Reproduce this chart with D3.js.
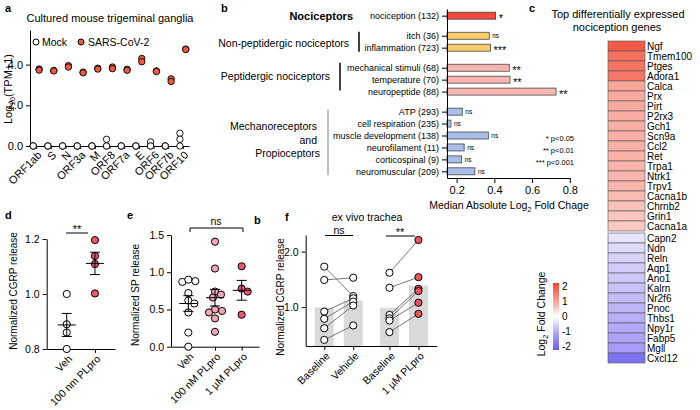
<!DOCTYPE html>
<html>
<head>
<meta charset="utf-8">
<script src="https://cdn.jsdelivr.net/npm/d3@7"></script>
<style>
  body { margin: 0; background: #fff; }
  svg { font-family: "Liberation Sans", Arial, Helvetica, sans-serif; }
</style>
</head>
<body>
<div id="fig"></div>
<script>
// ---- panel a: viral transcripts
var orfNames = ["ORF1ab", "S", "N", "ORF3a", "M", "ORF8", "ORF7a", "E", "ORF6", "ORF7b", "ORF10"];
var mockTpm = [[0, 0, 0], [0, 0, 0], [0, 0, 0], [0, 0, 0], [0, 0, 0], [0.33, 0, 0], [0, 0, 0], [0, 0, 0], [0.2, 0, 0], [0, 0, 0], [0.63, 0.33, 0]];
var sarsTpm = [[3.78, 3.73], [3.71, 3.69], [3.95, 3.88], [3.63, 3.6], [3.82, 3.78], [3.88, 3.8], [3.77, 3.72], [4.3, 4.14], [3.69, 3.66], [3.3, 3.17], [4.76, 4.74]];
var aTicks = [0, 2, 4];

// ---- panel b: pathway fold change
var pathNames = ["nociception (132)", "itch (36)", "inflammation (723)", "mechanical stimuli (68)", "temperature (70)",
  "neuropeptide (88)", "ATP (293)", "cell respiration (235)", "muscle development (138)", "neurofilament (11)",
  "corticospinal (9)", "neuromuscular (209)"];
var pathValues = [0.407, 0.373, 0.38, 0.479, 0.483, 0.727, 0.23, 0.17, 0.368, 0.24, 0.227, 0.297];
var pathGroup = [0, 1, 1, 2, 2, 2, 3, 3, 3, 3, 3, 3];
var pathSig = ["*", "ns", "***", "**", "**", "**", "ns", "ns", "ns", "ns", "ns", "ns"];
var bTicks = [0.2, 0.4, 0.6, 0.8];

// ---- panel c: heatmap
var upGenes = ["Ngf", "Tmem100", "Ptges", "Adora1", "Calca", "Prx", "Pirt", "P2rx3", "Gch1", "Scn9a", "Ccl2", "Ret",
  "Trpa1", "Ntrk1", "Trpv1", "Cacna1b", "Chrnb2", "Grin1", "Cacna1a"];
var upFc = [1.75, 1.5, 1.48, 1.45, 0.95, 0.92, 0.9, 0.88, 0.86, 0.85, 0.84, 0.82, 0.8, 0.79, 0.78, 0.72, 0.65, 0.62, 0.58];
var downGenes = ["Capn2", "Ndn", "Reln", "Aqp1", "Ano1", "Kalrn", "Nr2f6", "Pnoc", "Thbs1", "Npy1r", "Fabp5", "Mgll", "Cxcl12"];
var downFc = [-0.35, -0.45, -0.55, -0.62, -0.68, -0.75, -0.82, -0.9, -0.98, -1.05, -1.12, -1.22, -1.75];
var fcTicks = [2, 1, 0, -1, -2];

// ---- panel d: CGRP release
var dGroups = ["Veh", "100 nm PLpro"];
var dVeh = [1.0, 0.89, 0.86, 0.8];
var dPlpro = [1.196, 1.138, 1.109, 1.002];

// ---- panel e: SP release
var eGroups = ["Veh", "100 nM PLpro", "1 \u00b5M PLpro"];
var eVeh = [0.87, 0.88, 0.9, 0.72, 0.62, 0.58, 0.46, 0.19, 0.0];
var ePl100 = [1.41, 1.05, 0.74, 0.7, 0.66, 0.5, 0.48, 0.46, 0.38, 0.2];
var ePl1 = [1.08, 0.78, 0.74, 0.43];

// ---- panel f: ex vivo trachea (paired)
var fGroups = ["Baseline", "Vehicle", "Baseline", "1 \u00b5M PLpro"];
var fBase1 = [1.73, 1.49, 0.92, 0.79, 0.62, 0.41];
var fVehicle = [1.2, 1.53, 1.16, 1.1, 1.03, 0.67];
var fBase2 = [1.62, 1.35, 0.86, 0.8, 0.76, 0.55];
var fPlpro = [2.21, 1.54, 1.33, 1.29, 1.08, 0.88];

var svg = d3.select("#fig").append("svg")
  .attr("width", 700)
  .attr("height", 410);
svg.append("rect").attr("width", 700).attr("height", 410).attr("fill", "#fff");

function styleAxis(g, size) {
  g.attr("font-family", null).attr("font-size", size);
  g.selectAll("text").attr("fill", "#000");
}

function rotateLabels(g, dx, dy) {
  g.selectAll(".tick text")
    .attr("x", 0).attr("y", 0).attr("dy", "0.35em")
    .attr("transform", "translate(" + dx + "," + dy + ") rotate(-45)")
    .style("text-anchor", "end");
}

function letter(t, x, y) {
  svg.append("text").attr("x", x).attr("y", y)
    .attr("font-size", 11).attr("font-weight", "bold").text(t);
}

function yTitle(x, y, size, parts) {
  var t = svg.append("text")
    .attr("transform", "translate(" + x + "," + y + ") rotate(-90)")
    .attr("text-anchor", "middle")
    .attr("font-size", size);
  parts.forEach(function(p) {
    var s = t.append("tspan").text(p[0]);
    if (p[1]) s.attr("font-size", size * 0.7).attr("dy", 3);
    else if (p[2]) s.attr("dy", -3);
  });
  return t;
}

// simple swarm: shift points sideways until they stop overlapping
function dodge(vals, y, r) {
  var offs = vals.map(function() { return 0; });
  var placed = [];
  d3.range(vals.length).sort(function(a, b) { return vals[b] - vals[a]; }).forEach(function(i) {
    var cy = y(vals[i]);
    for (var k = 0; k < 60; k++) {
      var o = k % 2 ? (k + 1) / 2 : -k / 2;
      var ok = placed.every(function(p) { return Math.hypot(p[0] - o, p[1] - cy) >= 2 * r - 1; });
      if (ok) { offs[i] = o; placed.push([o, cy]); break; }
    }
  });
  return offs;
}

function meanSem(g, cx, vals, y) {
  var m = d3.mean(vals);
  var sem = d3.deviation(vals) / Math.sqrt(vals.length);
  g.append("line").attr("x1", cx - 9).attr("x2", cx + 9).attr("y1", y(m)).attr("y2", y(m));
  g.append("line").attr("x1", cx).attr("x2", cx).attr("y1", y(m - sem)).attr("y2", y(m + sem));
  g.append("line").attr("x1", cx - 5).attr("x2", cx + 5).attr("y1", y(m + sem)).attr("y2", y(m + sem));
  g.append("line").attr("x1", cx - 5).attr("x2", cx + 5).attr("y1", y(m - sem)).attr("y2", y(m - sem));
}

// =================== panel a
letter("a", 5, 12);
svg.append("text").attr("x", 110).attr("y", 22).attr("text-anchor", "middle")
  .attr("font-size", 11).text("Cultured mouse trigeminal ganglia");

var xa = d3.scalePoint().domain(orfNames).range([30, 189]).padding(0.42);
var ya = d3.scaleLinear().domain([0, 5.7]).range([146, 30]);

var axA = svg.append("g").attr("transform", "translate(0,146)")
  .call(d3.axisBottom(xa).tickSize(3).tickSizeOuter(0));
styleAxis(axA, 11);
rotateLabels(axA, 3, 7);
var ayA = svg.append("g").attr("transform", "translate(30,0)")
  .call(d3.axisLeft(ya).tickValues(aTicks).tickSize(4).tickSizeOuter(0));
styleAxis(ayA, 11);
yTitle(12, 89, 11, [["Log"], ["10", true], ["(TPM+1)", false, true]]);

var aPts = [];
orfNames.forEach(function(name, i) {
  mockTpm[i].forEach(function(v) { aPts.push({ name: name, v: v, sars: false }); });
  sarsTpm[i].forEach(function(v) { aPts.push({ name: name, v: v, sars: true }); });
});
svg.append("g").selectAll("circle")
  .data(aPts)
  .join("circle")
  .attr("cx", function(d) { return xa(d.name) + (d.sars ? 1 : -1) * xa.step() * 0.2; })
  .attr("cy", function(d) { return ya(d.v); })
  .attr("r", 3.2)
  .attr("fill", function(d) { return d.sars ? "#ef5a3c" : "#fff"; })
  .attr("stroke", "#000")
  .attr("stroke-width", 0.9);

svg.append("circle").attr("cx", 36).attr("cy", 42).attr("r", 3).attr("fill", "#fff").attr("stroke", "#000");
svg.append("text").attr("x", 42).attr("y", 46).attr("font-size", 10.5).text("Mock");
svg.append("circle").attr("cx", 81).attr("cy", 42).attr("r", 3).attr("fill", "#ef5a3c").attr("stroke", "#000");
svg.append("text").attr("x", 88).attr("y", 46).attr("font-size", 10.5).text("SARS-CoV-2");

// =================== panel b
letter("b", 221, 12);
var groupColors = ["#ef4b3b", "#f7cd6c", "#f9b6b1", "#a8bee8"];
var rowPos = pathGroup.map(function(g, i) { return i + g * 0.68; });
var yb = d3.scaleLinear().domain([-0.56, 13.6]).range([9, 178]);
var xb = d3.scaleLinear().domain([0.149, 0.8]).range([447, 569.8]);

svg.append("g").selectAll("rect")
  .data(pathValues)
  .join("rect")
  .attr("x", xb(0.149))
  .attr("y", function(d, i) { return yb(rowPos[i]) - 3.5; })
  .attr("width", function(d) { return xb(d) - xb(0.149); })
  .attr("height", 7)
  .attr("fill", function(d, i) { return groupColors[pathGroup[i]]; })
  .attr("stroke", "#333")
  .attr("stroke-width", 0.7);

svg.append("g").selectAll("text")
  .data(pathValues)
  .join("text")
  .attr("x", function(d) { return xb(d) + 3; })
  .attr("y", function(d, i) { return yb(rowPos[i]) + (pathSig[i] === "ns" ? 2.5 : 6); })
  .attr("font-size", function(d, i) { return pathSig[i] === "ns" ? 6.5 : 11; })
  .text(function(d, i) { return pathSig[i]; });

var ayB = svg.append("g").attr("transform", "translate(447,0)")
  .call(d3.axisLeft(yb).tickValues(rowPos).tickSize(5).tickSizeOuter(0)
    .tickFormat(function(d, i) { return pathNames[i]; }));
styleAxis(ayB, 9);
var axB = svg.append("g").attr("transform", "translate(0,178)")
  .call(d3.axisBottom(xb).tickValues(bTicks).tickSize(5).tickSizeOuter(0).tickFormat(d3.format(".1f")));
styleAxis(axB, 11);

var bTitle = svg.append("text").attr("x", 509).attr("y", 209).attr("text-anchor", "middle").attr("font-size", 10.5);
bTitle.append("tspan").text("Median Absolute Log");
bTitle.append("tspan").attr("font-size", 7.5).attr("dy", 3).text("2");
bTitle.append("tspan").attr("dy", -3).text(" Fold Chage");

svg.append("text").attr("x", 353).attr("y", 19.5).attr("text-anchor", "end")
  .attr("font-size", 11).attr("font-weight", "bold").text("Nociceptors");
svg.append("text").attr("x", 349).attr("y", 46.5).attr("text-anchor", "end")
  .attr("font-size", 10.5).text("Non-peptidergic nociceptors");
svg.append("text").attr("x", 330).attr("y", 80).attr("text-anchor", "end")
  .attr("font-size", 10.5).text("Peptidergic nociceptors");
[["Mechanoreceptors", 317, 130], ["and", 317, 144], ["Propioceptors", 320, 157]].forEach(function(t) {
  svg.append("text").attr("x", t[1]).attr("y", t[2]).attr("text-anchor", "end")
    .attr("font-size", 10.5).text(t[0]);
});
svg.append("line").attr("x1", 359).attr("x2", 359).attr("y1", yb(rowPos[1]) - 4).attr("y2", yb(rowPos[2]) + 4)
  .attr("stroke", "#000").attr("stroke-width", 1.5);
svg.append("line").attr("x1", 340).attr("x2", 340).attr("y1", yb(rowPos[3]) - 5).attr("y2", yb(rowPos[5]) - 1)
  .attr("stroke", "#000").attr("stroke-width", 1.5);
svg.append("line").attr("x1", 328).attr("x2", 328).attr("y1", yb(rowPos[6]) - 2).attr("y2", yb(rowPos[11]) + 4)
  .attr("stroke", "#aaa").attr("stroke-width", 1.5);

[["* p<0.05", 141], ["** p<0.01", 153], ["*** p<0.001", 165]].forEach(function(t) {
  svg.append("text").attr("x", 574).attr("y", t[1]).attr("text-anchor", "end")
    .attr("font-size", 7.5).text(t[0]);
});

// =================== panel c
letter("c", 529, 12);
svg.append("text").attr("x", 618).attr("y", 18).attr("text-anchor", "middle").attr("font-size", 11)
  .text("Top differentially expressed");
svg.append("text").attr("x", 617).attr("y", 31).attr("text-anchor", "middle").attr("font-size", 11)
  .text("nociception genes");

var fcColor = d3.scaleLinear().domain([-2, 0, 2]).range(["#6a5df2", "#ffffff", "#f2432c"]);
var yUp = d3.scaleBand().domain(upGenes).range([41, 231]);
var yDown = d3.scaleBand().domain(downGenes).range([233, 363]);

function heatRows(genes, fc, yscale) {
  var g = svg.append("g");
  g.selectAll("rect")
    .data(genes)
    .join("rect")
    .attr("x", 608)
    .attr("y", function(d) { return yscale(d); })
    .attr("width", 37)
    .attr("height", yscale.bandwidth())
    .attr("fill", function(d, i) { return fcColor(fc[i]); })
    .attr("stroke", "#555")
    .attr("stroke-width", 0.6);
  g.selectAll("text")
    .data(genes)
    .join("text")
    .attr("x", 647)
    .attr("y", function(d) { return yscale(d) + yscale.bandwidth() / 2; })
    .attr("dy", "0.36em")
    .attr("font-size", 10)
    .text(function(d) { return d; });
}
heatRows(upGenes, upFc, yUp);
heatRows(downGenes, downFc, yDown);

// colour bar
var yLeg = d3.scaleLinear().domain([-2.25, 2.25]).range([350, 283]);
var grad = svg.append("defs").append("linearGradient").attr("id", "fcgrad")
  .attr("x1", 0).attr("y1", 1).attr("x2", 0).attr("y2", 0);
[-2.25, -1, 0, 1, 2.25].forEach(function(v) {
  grad.append("stop").attr("offset", (v + 2.25) / 4.5).attr("stop-color", fcColor(Math.max(-2, Math.min(2, v))));
});
svg.append("rect").attr("x", 553).attr("y", yLeg(2.25)).attr("width", 6)
  .attr("height", yLeg(-2.25) - yLeg(2.25)).attr("fill", "url(#fcgrad)");
svg.append("g").selectAll("text")
  .data(fcTicks)
  .join("text")
  .attr("x", 562)
  .attr("y", function(d) { return yLeg(d); })
  .attr("dy", "0.36em")
  .attr("font-size", 10)
  .text(function(d) { return d; });
yTitle(545, 314, 10.5, [["Log"], ["2", true], [" Fold Change", false, true]]);

// =================== panel d
letter("d", 5, 219);
var xd = d3.scalePoint().domain(dGroups).range([46.7, 115]).padding(0.71);
var yd = d3.scaleLinear().domain([0.8, 1.2]).range([349, 239]);
var axD = svg.append("g").attr("transform", "translate(0,349)")
  .call(d3.axisBottom(xd).tickSize(4).tickSizeOuter(0));
styleAxis(axD, 10.5);
rotateLabels(axD, 3, 8);
var ayD = svg.append("g").attr("transform", "translate(46.7,0)")
  .call(d3.axisLeft(yd).tickValues([0.8, 1.0, 1.2]).tickSize(4).tickSizeOuter(0).tickFormat(d3.format(".1f")));
styleAxis(ayD, 10.5);
yTitle(16.5, 291, 10, [["Normalized CGRP release"]]);

svg.append("g").selectAll("circle")
  .data(dVeh)
  .join("circle")
  .attr("cx", xd("Veh")).attr("cy", function(d) { return yd(d); }).attr("r", 3.6)
  .attr("fill", "#fff").attr("stroke", "#000");
svg.append("g").selectAll("circle")
  .data(dPlpro)
  .join("circle")
  .attr("cx", xd("100 nm PLpro")).attr("cy", function(d) { return yd(d); }).attr("r", 3.6)
  .attr("fill", "#ec5468").attr("stroke", "#000");
var errD = svg.append("g").attr("stroke", "#000").attr("stroke-width", 1);
meanSem(errD, xd("Veh"), dVeh, yd);
meanSem(errD, xd("100 nm PLpro"), dPlpro, yd);

svg.append("line").attr("x1", 66).attr("x2", 88).attr("y1", 233).attr("y2", 233).attr("stroke", "#000");
svg.append("text").attr("x", 77).attr("y", 233).attr("text-anchor", "middle").attr("font-size", 11).text("**");

// =================== panel e
letter("e", 127, 219);
var xe = d3.scalePoint().domain(eGroups).range([171, 259]).padding(0.65);
var ye = d3.scaleLinear().domain([0, 1.5]).range([346.7, 235]);
var axE = svg.append("g").attr("transform", "translate(0,346.7)")
  .call(d3.axisBottom(xe).tickSize(4).tickSizeOuter(0));
styleAxis(axE, 10.5);
rotateLabels(axE, 3, 8);
var ayE = svg.append("g").attr("transform", "translate(171,0)")
  .call(d3.axisLeft(ye).tickValues([0, 0.5, 1.0, 1.5]).tickSize(4).tickSizeOuter(0).tickFormat(d3.format(".1f")));
styleAxis(ayE, 10.5);
yTitle(138.5, 295, 10, [["Normalized SP release"]]);

var eSets = [[eVeh, "#fff"], [ePl100, "#f4a6b7"], [ePl1, "#ec5570"]];
eSets.forEach(function(s, gi) {
  var offs = dodge(s[0], ye, 3.6);
  var cx = xe(eGroups[gi]);
  svg.append("g").selectAll("circle")
    .data(s[0])
    .join("circle")
    .attr("cx", function(d, i) { return cx + offs[i]; })
    .attr("cy", function(d) { return ye(d); })
    .attr("r", 3.6)
    .attr("fill", s[1])
    .attr("stroke", "#000");
});
var errE = svg.append("g").attr("stroke", "#000").attr("stroke-width", 1);
eSets.forEach(function(s, gi) { meanSem(errE, xe(eGroups[gi]), s[0], ye); });

svg.append("path").attr("d", "M190,232V228H243V232").attr("fill", "none").attr("stroke", "#000");
svg.append("text").attr("x", 216).attr("y", 225).attr("text-anchor", "middle").attr("font-size", 10.5).text("ns");

// =================== panel f
letter("b", 254, 224);
letter("f", 285, 221);
svg.append("text").attr("x", 367).attr("y", 221).attr("text-anchor", "middle").attr("font-size", 10.5)
  .text("ex vivo trachea");

var fPos = fGroups.map(function(d, i) { return i + (i >= 2 ? 0.25 : 0); });
var xf = d3.scaleLinear().domain([-0.64, 3.88]).range([305.7, 436.7]);
var yf = d3.scaleLinear().domain([0.3, 2.3]).range([346, 235]);
var fSets = [fBase1, fVehicle, fBase2, fPlpro];

svg.append("g").selectAll("rect")
  .data(fSets)
  .join("rect")
  .attr("x", function(d, i) { return xf(fPos[i]) - 9.5; })
  .attr("y", function(d) { return yf(d3.mean(d)); })
  .attr("width", 19)
  .attr("height", function(d) { return yf(0.3) - yf(d3.mean(d)); })
  .attr("fill", "#d9d9d9");

var pairG = svg.append("g").attr("stroke", "#555").attr("stroke-width", 0.8);
[[0, 1], [2, 3]].forEach(function(p) {
  fSets[p[0]].forEach(function(v, k) {
    pairG.append("line")
      .attr("x1", xf(fPos[p[0]])).attr("y1", yf(v))
      .attr("x2", xf(fPos[p[1]])).attr("y2", yf(fSets[p[1]][k]));
  });
});

fSets.forEach(function(vals, gi) {
  svg.append("g").selectAll("circle")
    .data(vals)
    .join("circle")
    .attr("cx", xf(fPos[gi]))
    .attr("cy", function(d) { return yf(d); })
    .attr("r", 3.6)
    .attr("fill", gi === 3 ? "#ee5064" : "#fff")
    .attr("stroke", "#000");
});

var axF = svg.append("g").attr("transform", "translate(0,346)")
  .call(d3.axisBottom(xf).tickValues(fPos).tickSize(4).tickSizeOuter(0)
    .tickFormat(function(d, i) { return fGroups[i]; }));
styleAxis(axF, 10.5);
rotateLabels(axF, 3, 8);
var ayF = svg.append("g").attr("transform", "translate(305.7,0)")
  .call(d3.axisLeft(yf).tickValues([1, 2]).tickSize(4).tickSizeOuter(0));
styleAxis(ayF, 10.5);
yTitle(284, 297, 10, [["Normalized CGRP release"]]);

svg.append("line").attr("x1", 325).attr("x2", 353).attr("y1", 235.5).attr("y2", 235.5).attr("stroke", "#000");
svg.append("text").attr("x", 339).attr("y", 233.5).attr("text-anchor", "middle").attr("font-size", 10.5).text("ns");
svg.append("line").attr("x1", 386).attr("x2", 415).attr("y1", 236).attr("y2", 236).attr("stroke", "#000");
svg.append("text").attr("x", 400).attr("y", 236).attr("text-anchor", "middle").attr("font-size", 11).text("**");
</script>
</body>
</html>
